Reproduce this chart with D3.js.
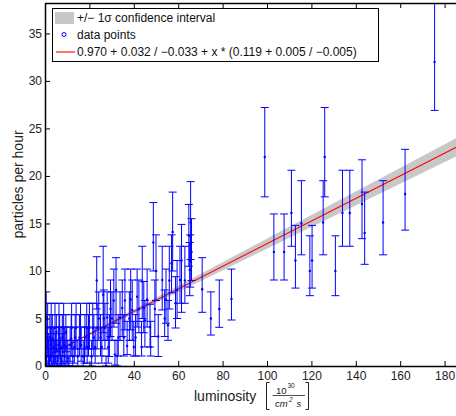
<!DOCTYPE html>
<html>
<head>
<meta charset="utf-8">
<script src="https://cdn.jsdelivr.net/npm/d3@7"></script>
<style>
  body { margin: 0; background: #fff; }
  svg { display: block; font-family: "Liberation Sans", Arial, sans-serif; }
</style>
</head>
<body>
<div id="chart"></div>
<script>
// luminosity (x), rate and the lower / upper end of each error bar
const lumi = [0.3,0.5,0.6,0.8,1.0,1.2,1.5,1.7,2.0,2.2,2.5,2.8,3.0,3.3,3.6,3.9,4.2,4.5,4.8,5.1,5.4,5.7,6.0,6.3,6.6,6.9,7.2,7.5,7.8,8.1,8.4,8.7,9.0,9.4,9.8,10.3,10.8,11.3,11.8,12.5,13.2,14.0,14.8,15.5,16.3,17.2,18.0,19.0,20.0,21.0,22.0,23.5,25.0,27.5,28.5,32.5,
  12.0,13.6,16.0,17.8,18.8,19.6,21.5,22.6,24.2,25.6,27.0,28.0,29.0,30.2,32.0,33.0,33.8,35.5,38.0,38.6,40.8,42.3,44.5,46.0,49.5,54.5,56.0,59.5,63.0,64.8,66.0,
  23.3,26.2,26.5,29.5,31.0,31.5,34.8,36.0,37.0,39.3,40.0,41.5,43.5,43.8,45.0,47.3,47.6,48.8,50.0,51.0,52.8,53.9,55.4,57.0,57.5,58.8,60.8,61.5,65.2,65.4,65.6,70.8,74.7,78.5,84.0,
  99.0,103.1,107.7,111.0,112.8,115.5,119.3,120.3,125.3,126.0,130.8,134.0,137.3,142.8,144.0,152.3,162.2,175.5];
const rate = [2.0,5.1,0.0,1.0,3.0,4.0,1.5,1.0,0.0,3.0,2.2,4.0,1.0,2.9,0.0,2.0,0.8,4.0,1.5,3.6,1.0,0.0,2.2,4.0,2.9,0.8,2.0,0.0,3.0,1.5,4.0,2.2,1.0,3.6,2.0,0.8,0.0,2.2,2.9,1.0,2.0,4.0,1.0,3.0,2.2,1.0,3.0,2.0,4.0,1.0,3.0,4.0,3.0,0.0,2.0,1.05,
  4.0,3.0,4.0,2.0,4.0,3.0,4.0,2.0,5.0,2.0,4.0,5.1,3.0,5.0,8.0,3.0,5.1,3.0,5.0,7.0,3.0,6.0,6.1,7.0,6.0,7.0,9.0,8.0,9.0,13.7,12.0,
  9.0,7.5,5.0,6.0,6.9,1.2,6.1,6.9,2.1,5.9,2.0,7.3,2.0,8.9,4.8,4.1,2.0,13.0,10.0,3.1,9.05,5.0,4.3,10.8,14.1,6.6,9.05,11.1,10.1,11.05,15.1,8.07,5.0,6.0,7.05,
  22.0,12.0,12.0,16.1,11.1,15.0,10.0,11.1,15.1,22.0,10.0,16.1,16.1,17.05,14.0,15.1,18.1,32.0];
const rateLo = [0.3,2.7,0,0,1.05,1.8,0.2,0,0,1.05,0.5,1.8,0,1.05,0,0.3,0,1.8,0.2,1.5,0,0,0.5,1.8,1.05,0,0.3,0,1.05,0.2,1.8,0.5,0,1.5,0.3,0,0,0.5,1.05,0,0.3,1.8,0,1.05,0.5,0,1.05,0.3,1.8,0,1.05,1.8,1.05,0,0.3,0,
  1.8,1.05,1.8,0.3,1.8,1.05,1.8,0.3,2.7,0.3,1.8,2.7,1.0,2.7,4.5,1.05,2.7,1.05,2.7,3.8,1.05,3.5,3.5,4.1,3.1,4.5,6.0,5.0,6.6,10.5,9.0,
  6.0,3.5,2.7,3.1,4.1,0.1,3.1,3.8,1.2,2.7,1.05,4.1,1.05,5.0,2.0,2.0,1.05,10.0,6.9,1.0,5.9,3.1,2.7,7.7,10.0,4.0,6.6,5.65,7.4,8.3,11.2,5.65,3.26,4.07,4.84,
  17.8,9.05,9.05,12.6,8.2,11.7,7.4,8.2,11.7,17.8,7.4,12.6,12.6,13.4,10.7,11.7,14.3,26.9];
const rateHi = [4.1,7.8,1.05,2.7,5.4,6.6,3.4,2.7,1.05,5.4,4.1,6.6,2.7,5.4,1.05,4.1,2.7,6.6,3.4,5.4,2.7,1.05,4.1,6.6,5.4,2.7,4.1,1.05,5.4,3.4,6.6,4.1,2.7,5.4,4.1,2.7,1.05,4.1,5.4,2.7,4.1,6.6,2.7,5.4,4.1,2.7,5.4,4.1,6.6,2.7,5.4,6.6,5.4,1.05,4.1,2.7,
  6.6,5.4,6.6,4.1,6.6,5.4,6.6,4.1,7.8,4.1,6.6,7.8,5.4,7.8,11.4,5.4,7.8,5.4,7.8,10.2,5.4,9.05,8.9,10.2,9.05,10.2,12.6,11.1,12.6,17.0,15.5,
  11.5,12.6,8.0,9.05,10.2,2.7,9.05,10.2,4.7,9.05,4.7,10.2,4.7,12.6,6.9,6.5,4.7,17.2,13.8,5.4,12.6,8.0,6.9,13.8,18.3,9.4,12.6,14.9,13.0,13.8,19.4,11.4,7.8,9.05,10.2,
  27.2,16.0,16.0,20.6,14.8,19.5,13.7,14.8,19.5,27.2,13.7,20.6,20.6,21.7,18.3,19.5,22.8,38.5];

// linear fit: intercept and slope with their +/- errors
const intercept = [0.970, 0.032, 0.033];
const slope = [0.119, 0.005, 0.005];
const fitRange = [0, 200];

const xTicks = [0, 20, 40, 60, 80, 100, 120, 140, 160, 180];
const yTicks = [0, 5, 10, 15, 20, 25, 30, 35];

const legendLabels = ["+/\u2212 1\u03c3 confidence interval", "data points",
  "0.970 + 0.032 / \u22120.033 + x * (0.119 + 0.005 / \u22120.005)"];

const width = 456, height = 416;
const x = d3.scaleLinear().domain([0, 200]).range([45, 489]);
const y = d3.scaleLinear().domain([0, 38.2]).range([366, 3]);

const svg = d3.select("#chart").append("svg")
  .attr("width", width).attr("height", height);

svg.append("clipPath").attr("id", "plot")
  .append("rect").attr("x", 45).attr("y", 3).attr("width", 444).attr("height", 363);

const g = svg.append("g").attr("clip-path", "url(#plot)");

// confidence band and fit line
const fit = v => intercept[0] + slope[0] * v;
const fitHi = v => intercept[0] + intercept[1] + (slope[0] + slope[1]) * v;
const fitLo = v => intercept[0] - intercept[2] + (slope[0] - slope[2]) * v;

g.append("path").datum(fitRange)
  .attr("fill", "#c8c8c8")
  .attr("d", d3.area().x(d => x(d)).y0(d => y(fitLo(d))).y1(d => y(fitHi(d))));

g.append("path").datum(fitRange)
  .attr("fill", "none").attr("stroke", "#ff0000").attr("stroke-width", 1.1)
  .attr("d", d3.line().x(d => x(d)).y(d => y(fit(d))));

// error bars
const idx = d3.range(lumi.length);
const cap = 4;
const bars = g.append("g").attr("stroke", "#0000ff").attr("stroke-width", 1).attr("fill", "none");
bars.selectAll("path").data(idx).join("path")
  .attr("d", i => {
    const px = x(lumi[i]), y0 = y(rateLo[i]), y1 = y(rateHi[i]);
    return `M${px},${y0}V${y1}M${px - cap},${y1}H${px + cap}M${px - cap},${y0}H${px + cap}`;
  });

g.append("g").attr("fill", "#0000ff")
  .selectAll("circle").data(idx).join("circle")
  .attr("cx", i => x(lumi[i])).attr("cy", i => y(rate[i])).attr("r", 1.2);

// axes (MATLAB style: inward ticks, box)
const styleAxis = sel => {
  sel.attr("font-family", null).attr("font-size", 12);
  sel.selectAll("text").attr("fill", "#222");
  sel.selectAll("path,line").attr("stroke", "#000");
};

svg.append("g").attr("transform", "translate(0,366)")
  .call(d3.axisBottom(x).tickValues(xTicks).tickSizeInner(-5).tickSizeOuter(0).tickPadding(5.5))
  .call(styleAxis)
  .select(".domain").attr("stroke-width", 1.5);

svg.append("g").attr("transform", "translate(45,0)")
  .call(d3.axisLeft(y).tickValues(yTicks).tickSizeInner(-5).tickSizeOuter(0).tickPadding(3))
  .call(styleAxis)
  .select(".domain").attr("stroke-width", 1.5);

svg.append("g").attr("transform", "translate(0,3)")
  .call(d3.axisTop(x).tickValues(xTicks).tickSizeInner(-5).tickSizeOuter(0).tickFormat(""))
  .call(styleAxis)
  .select(".domain").attr("stroke-width", 1.5);

// axis titles
svg.append("text")
  .attr("transform", "translate(23,184.5) rotate(-90)")
  .attr("text-anchor", "middle").attr("font-size", 14).attr("fill", "#222")
  .text("particles per hour");

const xl = svg.append("g").attr("fill", "#222");
xl.append("text").attr("x", 194).attr("y", 400.5).attr("font-size", 14).text("luminosity");
// [ 10^30 / (cm^2 s) ]
xl.append("path").attr("fill", "none").attr("stroke", "#222").attr("stroke-width", 1)
  .attr("d", "M269.5,382.5H266.5V409.5H269.5M305.5,382.5H308.5V409.5H305.5");
xl.append("path").attr("stroke", "#222").attr("stroke-width", 0.8).attr("d", "M272.5,395.5H305");
xl.append("text").attr("x", 276).attr("y", 393.5).attr("font-size", 9.5).text("10");
xl.append("text").attr("x", 287.5).attr("y", 388).attr("font-size", 6.5).text("30");
xl.append("text").attr("x", 275).attr("y", 406.5).attr("font-size", 9.5).attr("font-style", "italic").text("cm");
xl.append("text").attr("x", 289).attr("y", 401.5).attr("font-size", 6.5).attr("font-style", "italic").text("2");
xl.append("text").attr("x", 296.5).attr("y", 406.5).attr("font-size", 9.5).attr("font-style", "italic").text("s");

// legend
const lg = svg.append("g");
lg.append("rect").attr("x", 52.5).attr("y", 8.5).attr("width", 326).attr("height", 53)
  .attr("fill", "#fff").attr("stroke", "#000").attr("stroke-width", 1);
const rowY = [18, 34.5, 52];
lg.append("rect").attr("x", 55).attr("y", rowY[0] - 6).attr("width", 19).attr("height", 12).attr("fill", "#c8c8c8");
lg.append("circle").attr("cx", 64).attr("cy", rowY[1]).attr("r", 2)
  .attr("fill", "none").attr("stroke", "#0000ff").attr("stroke-width", 1);
lg.append("line").attr("x1", 56).attr("x2", 75).attr("y1", rowY[2]).attr("y2", rowY[2])
  .attr("stroke", "#ff0000").attr("stroke-width", 1.1);
lg.selectAll("text.lab").data(legendLabels).join("text").attr("class", "lab")
  .attr("x", 77).attr("y", (d, i) => rowY[i]).attr("dy", "0.35em")
  .attr("font-size", 12).attr("fill", "#111")
  .text(d => d);
</script>
</body>
</html>
